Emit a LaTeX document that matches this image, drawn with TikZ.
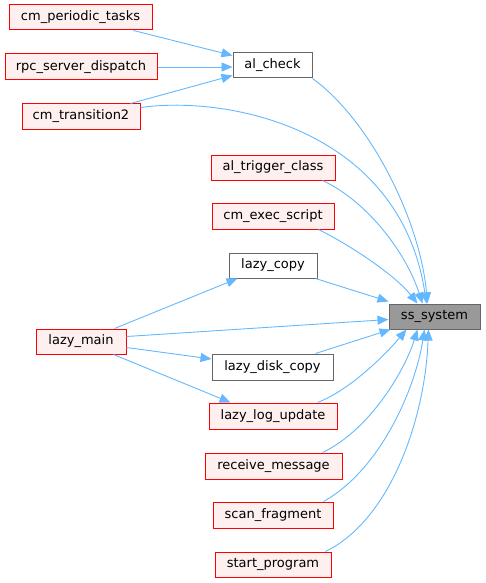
\documentclass[tikz,border=0pt]{standalone}
\usepackage{fontspec}
\setmainfont{DejaVu Sans}
\usetikzlibrary{arrows.meta,calc}
\definecolor{edgeblue}{HTML}{63B8FF}
\definecolor{redfill}{HTML}{FFF0F0}
\definecolor{greyline}{HTML}{666666}
\definecolor{selfill}{HTML}{999999}
\tikzset{
  box/.style={rectangle, inner sep=0pt, line width=1pt, font=\fontsize{13}{15}\selectfont},
  redbox/.style={box, draw=red, fill=redfill},
  plainbox/.style={box, draw=greyline, fill=white},
  selbox/.style={box, draw=greyline, fill=selfill},
  call/.style={draw=edgeblue, line width=0.9pt, -{Triangle[length=11pt,width=9pt]}},
}
\begin{document}
\begin{tikzpicture}[x=1pt,y=-1pt]
\useasboundingbox (0,0) rectangle (485,583);
% nodes
\node[redbox, minimum width=143pt, minimum height=25pt] (cpt) at (80.5,17.5) {cm\_periodic\_tasks};
\node[redbox, minimum width=152pt, minimum height=26pt] (rpc) at (81,67) {rpc\_server\_dispatch};
\node[plainbox, minimum width=79pt, minimum height=25pt] (alc) at (272.5,65.5) {al\_check};
\node[redbox, minimum width=118pt, minimum height=25pt] (cmt) at (81,116.5) {cm\_transition2};
\node[redbox, minimum width=124pt, minimum height=25pt] (atc) at (273,167.5) {al\_trigger\_class};
\node[redbox, minimum width=122pt, minimum height=26pt] (ces) at (273,216) {cm\_exec\_script};
\node[plainbox, minimum width=88pt, minimum height=25pt] (lcp) at (273,265.5) {lazy\_copy};
\node[selbox, minimum width=91pt, minimum height=25pt] (ss) at (434.5,316.5) {ss\_system};
\node[redbox, minimum width=90pt, minimum height=25pt] (lm) at (81,341.5) {lazy\_main};
\node[plainbox, minimum width=121pt, minimum height=26pt] (ldc) at (272.5,367) {lazy\_disk\_copy};
\node[redbox, minimum width=128pt, minimum height=26pt] (llu) at (273,416) {lazy\_log\_update};
\node[redbox, minimum width=137pt, minimum height=26pt] (rm) at (273.5,466) {receive\_message};
\node[redbox, minimum width=120pt, minimum height=26pt] (sf) at (273,515) {scan\_fragment};
\node[redbox, minimum width=116pt, minimum height=25pt] (sp) at (273,564.5) {start\_program};
% edges into al_check
\draw[call] ($(cpt.south east)+(-19,0)$) -- ($(alc.west)+(0,-10)$);
\draw[call] (rpc.east) -- ($(alc.west)+(0,1.5)$);
\draw[call] ($(cmt.north east)+(-10,0)$) -- ($(alc.west)+(0,10)$);
% edges into ss_system
\draw[call] (alc.south east) .. controls (370,120) and (420,220) .. ($(ss.north)+(-7,0)$);
\draw[call] ($(cmt.east)+(0,-9)$) .. controls (230,95) and (400,130) .. ($(ss.north)+(-8,0)$);
\draw[call] ($(atc.south east)+(-13,0)$) .. controls (365,200) and (405,250) .. ($(ss.north)+(-12,0)$);
\draw[call] ($(ces.south east)+(-16,0)$) .. controls (350,245) and (395,275) .. ($(ss.north)+(-17,0)$);
\draw[call] ($(lcp.south east)+(-2,0)$) -- ($(ss.north west)+(0,-2)$);
\draw[call] ($(lm.east)+(0,-5)$) -- ($(ss.west)+(0,3)$);
\draw[call] ($(ldc.north east)+(-18,0)$) -- ($(ss.south west)+(2,0)$);
\draw[call] ($(llu.north east)+(-20,0)$) .. controls (350,390) and (385,355) .. ($(ss.south)+(-28,0)$);
\draw[call] ($(rm.north east)+(-20,0)$) .. controls (370,430) and (405,370) .. ($(ss.south)+(-17,0)$);
\draw[call] ($(sf.north east)+(-10,0)$) .. controls (380,470) and (415,390) .. ($(ss.south)+(-10,0)$);
\draw[call] ($(sp.north east)+(-6,0)$) .. controls (390,520) and (425,420) .. ($(ss.south)+(-6,0)$);
% edges from lazy_main
\draw[call] ($(lm.north east)+(-12,0)$) -- ($(lcp.south west)+(9,0)$);
\draw[call] ($(lm.east)+(0,6)$) -- ($(ldc.west)+(0,-8)$);
\draw[call] ($(lm.south east)+(-13,0)$) -- ($(llu.north west)+(22,0)$);
\end{tikzpicture}
\end{document}
